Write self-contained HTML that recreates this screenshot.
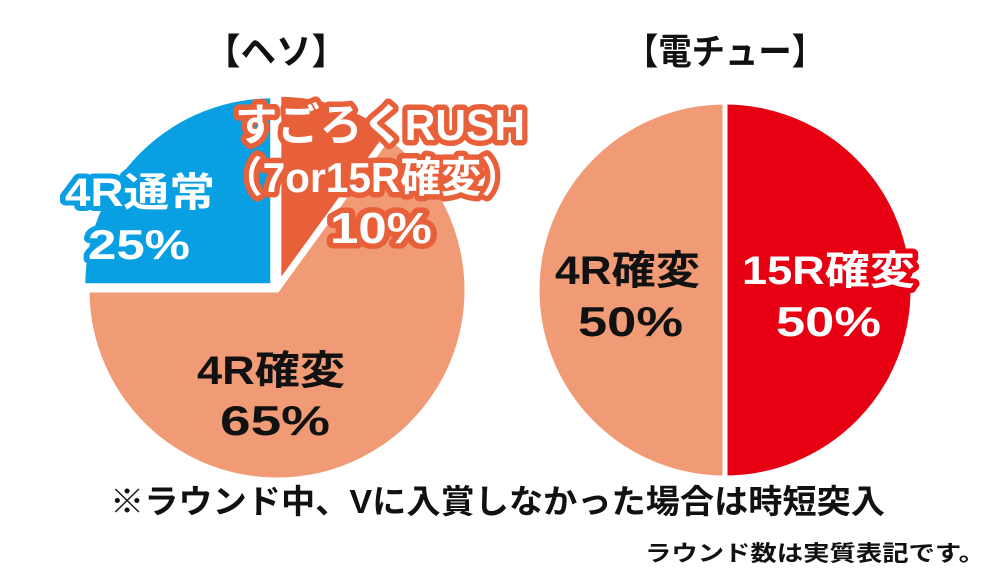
<!DOCTYPE html>
<html><head><meta charset="utf-8"><style>
html,body{margin:0;padding:0;background:#fff;}
svg{display:block;}
text{font-family:"Liberation Sans","Noto Sans CJK JP",sans-serif;font-weight:bold;}
</style></head><body>
<svg id="chart" width="1000" height="577" viewBox="0 0 1000 577">
<text x="205" y="64" font-size="36" textLength="142" lengthAdjust="spacingAndGlyphs" fill="#111">【ヘソ】</text>
<text x="625" y="64" font-size="36" textLength="200" lengthAdjust="spacingAndGlyphs" fill="#111">【電チュー】</text>
<g id="left"></g>
<g id="right"></g>
<g id="labels" style="paint-order:stroke;stroke-linejoin:round">
<text x="65" y="206" font-size="40" textLength="150" lengthAdjust="spacingAndGlyphs" fill="#fff" stroke="#09a0e3" stroke-width="10">4R通常</text>
<text x="88" y="259" font-size="42" textLength="102" lengthAdjust="spacingAndGlyphs" fill="#fff" stroke="#09a0e3" stroke-width="10">25%</text>
<text x="235" y="140" font-size="44" textLength="290" lengthAdjust="spacingAndGlyphs" fill="#fff" stroke="#e8603a" stroke-width="11">すごろくRUSH</text>
<text x="222" y="192" font-size="42" textLength="300" lengthAdjust="spacingAndGlyphs" fill="#fff" stroke="#e8603a" stroke-width="11">（7or15R確変）</text>
<text x="330" y="243" font-size="44" textLength="102" lengthAdjust="spacingAndGlyphs" fill="#fff" stroke="#e8603a" stroke-width="11">10%</text>
<text x="197" y="384" font-size="40" textLength="148" lengthAdjust="spacingAndGlyphs" fill="#111">4R確変</text>
<text x="220" y="435" font-size="42" textLength="110" lengthAdjust="spacingAndGlyphs" fill="#111">65%</text>
<text x="555" y="284" font-size="40" textLength="145" lengthAdjust="spacingAndGlyphs" fill="#111">4R確変</text>
<text x="578" y="336" font-size="42" textLength="105" lengthAdjust="spacingAndGlyphs" fill="#111">50%</text>
<text x="742" y="284" font-size="40" textLength="173" lengthAdjust="spacingAndGlyphs" fill="#fff" stroke="#e60012" stroke-width="10">15R確変</text>
<text x="776" y="336" font-size="42" textLength="105" lengthAdjust="spacingAndGlyphs" fill="#fff" stroke="#e60012" stroke-width="10">50%</text>
</g>
<text x="110" y="513" font-size="33" textLength="775" lengthAdjust="spacingAndGlyphs" fill="#111">※ラウンド中、Vに入賞しなかった場合は時短突入</text>
<text x="645" y="561" font-size="22" textLength="340" lengthAdjust="spacingAndGlyphs" fill="#111">ラウンド数は実質表記です。</text>
</svg>
<script>
const leftCategories = ["4R確変", "4R通常", "すごろくRUSH"];
const leftValues = [65, 25, 10];
const leftColors = ["#f19b76", "#09a0e3", "#e8603a"];
const rightCategories = ["15R確変", "4R確変"];
const rightValues = [50, 50];
const rightColors = ["#e60012", "#f19b76"];
const NS = "http://www.w3.org/2000/svg";
function drawPie(gid, cx, cy, r, values, colors, startDeg, explode, names) {
  const g = document.getElementById(gid);
  const total = values.reduce((a, b) => a + b, 0);
  let a0 = startDeg;
  values.forEach((v, i) => {
    const sweep = v / total * 360;
    const a1 = a0 + sweep;
    const mid = (a0 + a1) / 2 * Math.PI / 180;
    const ex = explode[i] || 0;
    const ox = cx + Math.sin(mid) * ex, oy = cy - Math.cos(mid) * ex;
    const p = (a) => [ox + r * Math.sin(a * Math.PI / 180), oy - r * Math.cos(a * Math.PI / 180)];
    const [x0, y0] = p(a0), [x1, y1] = p(a1);
    const path = document.createElementNS(NS, "path");
    path.setAttribute("d", `M${ox},${oy} L${x0},${y0} A${r},${r} 0 ${sweep > 180 ? 1 : 0} 1 ${x1},${y1} Z`);
    path.setAttribute("fill", colors[i]);
    path.setAttribute("stroke", "#fff");
    path.setAttribute("stroke-width", "5");
    
    
    g.appendChild(path);
    a0 = a1;
  });
}
drawPie("left", 277, 290, 190, leftValues, leftColors, 36, [0, 6, 6], ["heso-4r-kakuhen", "heso-4r-normal", "heso-rush"]);
drawPie("right", 725, 290, 188, rightValues, rightColors, 0, [0, 0], ["denchu-15r", "denchu-4r"]);
</script>
</body></html>
